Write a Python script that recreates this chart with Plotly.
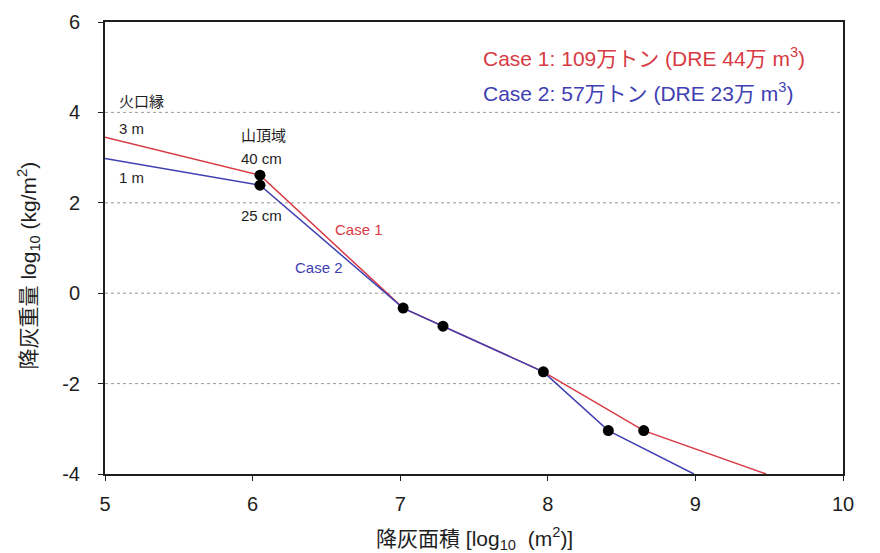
import plotly.graph_objects as go

# Data (log10 values)
case1_x = [5.0, 6.05, 7.02, 7.29, 7.97, 8.65, 9.48]
case1_y = [3.45, 2.61, -0.33, -0.73, -1.74, -3.04, -4.0]
case2_x = [5.0, 6.05, 7.02, 7.29, 7.97, 8.41, 8.99]
case2_y = [2.98, 2.39, -0.33, -0.73, -1.74, -3.04, -4.0]
dots_x = [6.05, 6.05, 7.02, 7.29, 7.97, 8.41, 8.65]
dots_y = [2.61, 2.39, -0.33, -0.73, -1.74, -3.04, -3.04]

x_ticks = [5, 6, 7, 8, 9, 10]
y_ticks = [-4, -2, 0, 2, 4, 6]
y_ticklabels = ["-4", "-2", "0", "2", "4", "6"]
grid_y = [-2, 0, 2, 4]

FONT = "Liberation Sans, Arial, Noto Sans CJK JP"
RED = "#d83a44"
BLUE = "#4040b2"
INK = "#1e1e1e"

fig = go.Figure()
for gy in grid_y:
    fig.add_shape(type="line", xref="paper", x0=0, x1=1, yref="y", y0=gy, y1=gy,
                  line=dict(color="#9a9a9a", width=1, dash="dot"), layer="below")

fig.add_trace(go.Scatter(x=case1_x, y=case1_y, mode="lines",
                         line=dict(color=RED, width=1.5), showlegend=False))
fig.add_trace(go.Scatter(x=case2_x, y=case2_y, mode="lines",
                         line=dict(color=BLUE, width=1.5), showlegend=False))
fig.add_trace(go.Scatter(x=dots_x, y=dots_y, mode="markers",
                         marker=dict(color="black", size=11), showlegend=False))

def txt(x, y, s, color=INK, size=15, xanchor="left", xref="x", yref="y", angle=0):
    fig.add_annotation(x=x, y=y, xref=xref, yref=yref, text=s, showarrow=False,
                       xanchor=xanchor, yanchor="middle", textangle=angle,
                       font=dict(family=FONT, size=size, color=color))

txt(5.08, 4.25, "火口縁")
txt(5.08, 3.65, "3 m")
txt(5.08, 2.56, "1 m")
txt(5.91, 3.5, "山頂域")
txt(5.91, 2.97, "40 cm")
txt(5.91, 1.73, "25 cm")
txt(6.72, 1.42, "Case 1", color=RED, xanchor="center")
txt(6.45, 0.56, "Case 2", color=BLUE, xanchor="center")
txt(7.55, 5.23, "Case 1: 109万トン (DRE 44万 m<sup>3</sup>)", color=RED, size=21)
txt(7.55, 4.45, "Case 2: 57万トン (DRE 23万 m<sup>3</sup>)", color=BLUE, size=21)

# axis titles
txt(0.5, -0.1416, "降灰面積 [log<sub>10</sub>  (m<sup>2</sup>)]", size=21, xanchor="center",
    xref="paper", yref="paper")
txt(-0.104, 0.462, "降灰重量 log<sub>10</sub> (kg/m<sup>2</sup>)", size=21, xanchor="center",
    xref="paper", yref="paper", angle=-90)

fig.update_xaxes(range=[5, 10], tickvals=x_ticks, showgrid=False, zeroline=False,
                 showline=True, linecolor=INK, linewidth=2, mirror=True,
                 ticks="outside", ticklen=5, tickcolor=INK, automargin=False,
                 ticklabelstandoff=6,
                 tickfont=dict(family=FONT, size=20, color=INK))
fig.update_yaxes(range=[-4, 6], tickvals=y_ticks, ticktext=y_ticklabels, showgrid=False,
                 zeroline=False, showline=True, linecolor=INK, linewidth=2, mirror=True,
                 ticks="outside", ticklen=5, tickcolor=INK, automargin=False,
                 ticklabelstandoff=14,
                 tickfont=dict(family=FONT, size=20, color=INK))

fig.update_layout(width=880, height=553, margin=dict(l=97, r=45, t=14, b=87),
                  plot_bgcolor="white", paper_bgcolor="white", showlegend=False)

fig.write_html("out.html")
